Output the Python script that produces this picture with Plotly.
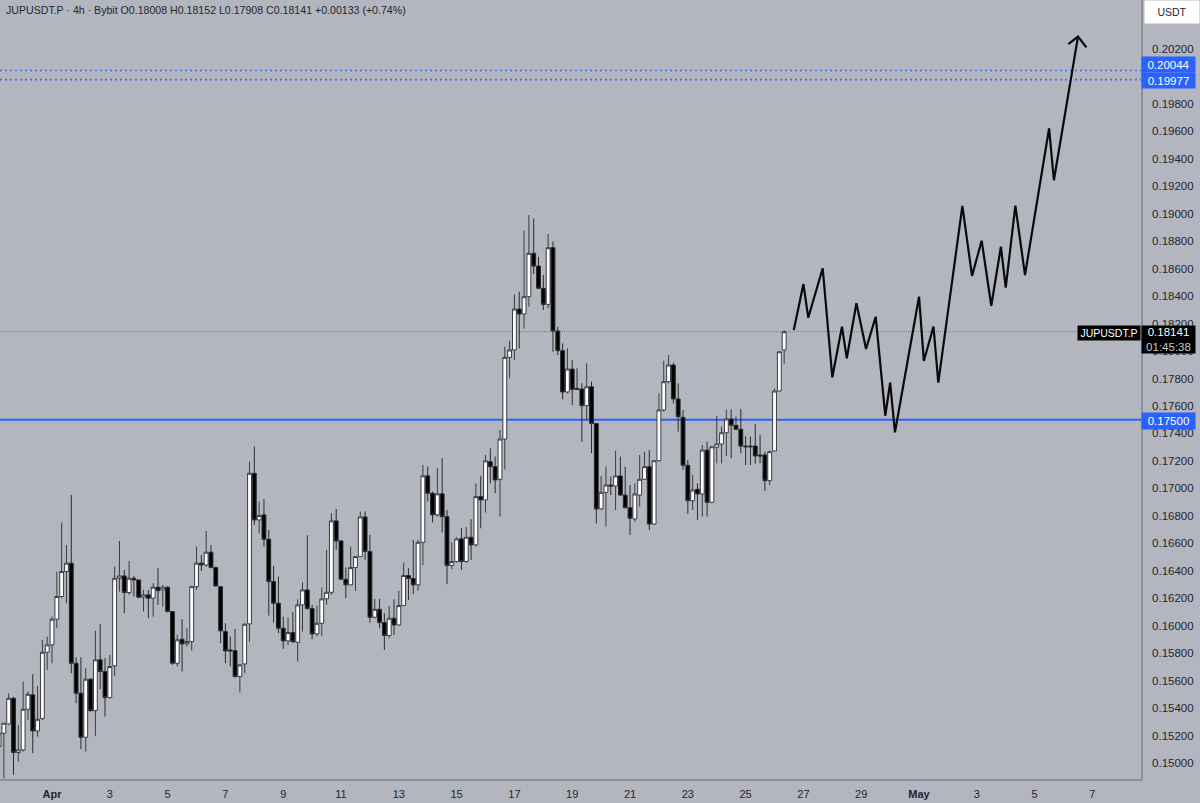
import pandas as pd
import plotly.graph_objects as go

BG = '#b3b6bf'
BLUE = '#2962ff'
INK = '#23262e'
FONT = 'Liberation Sans'

# 4h candles, first one is Mar 30 04:00
first_candle = '2026-03-30 04:00'

opens = [
    .15119, .15216, .15284, .15471, .15076, .15095, .15391, .15496, .15233, .15323,
    .15806, .15860, .16047, .16212, .16394, .16455, .15726, .15508, .15187, .15610,
    .15381, .15751, .15666, .15476, .15707, .16345, .16362, .16241, .16345, .16333,
    .16207, .16224, .16200, .16280, .16260, .16280, .16103, .15726, .15901, .15867,
    .15884, .16284, .16455, .16442, .16535, .16423, .16284, .15957, .15823, .15818,
    .15629, .15721, .16013, .17110, .16770, .16807, .16629, .16321, .16163, .15981,
    .15889, .15950, .15879, .16151, .16260, .16124, .15940, .16017, .16195, .16243,
    .16763, .16617, .16338, .16297, .16423, .16503, .16792, .16540, .16061, .16119,
    .16022, .15928, .16054, .16005, .16146, .16365, .16343, .16297, .16607, .17091,
    .16964, .16807, .16960, .16794, .16438, .16467, .16632, .16467, .16644, .16588,
    .16940, .16916, .17194, .17158, .17066, .17359, .17954, .18008, .18306, .18270,
    .18396, .18712, .18619, .18457, .18340, .18753, .18146, .18003, .17702, .17869,
    .17728, .17723, .17602, .17740, .17473, .16850, .16971, .17024, .17017, .17090,
    .16951, .16859, .16777, .16951, .17066, .17158, .16740, .17201, .17571, .17777,
    .17898, .17651, .17517, .17168, .16910, .16993, .16959, .17279, .16898, .17299,
    .17323, .17405, .17505, .17459, .17430, .17308, .17308, .17308, .17243, .17243,
    .17056, .17272, .17709, .18008,
]
highs = [
    .15216, .15289, .15507, .15480, .15277, .15593, .15520, .15646, .15561, .15896,
    .15920, .16066, .16394, .16751, .16588, .16952, .15770, .15770, .15690, .15617,
    .15962, .16010, .15763, .15787, .16430, .16617, .16406, .16472, .16362, .16333,
    .16260, .16260, .16309, .16418, .16297, .16285, .16103, .15933, .16047, .15981,
    .16289, .16576, .16515, .16690, .16588, .16430, .16289, .16017, .15920, .15976,
    .15721, .16017, .17195, .17304, .16904, .16921, .16697, .16435, .16357, .16066,
    .16059, .16098, .16192, .16314, .16658, .16151, .16144, .16277, .16552, .16819,
    .16850, .16620, .16425, .16576, .16508, .16831, .16831, .16661, .16195, .16195,
    .16090, .16144, .16192, .16253, .16459, .16418, .16624, .16624, .17171, .17159,
    .16977, .17146, .17219, .16843, .16607, .16644, .16709, .16717, .16775, .17037,
    .17091, .17243, .17291, .17231, .17425, .18032, .18076, .18413, .18432, .18877,
    .18991, .18966, .18687, .18554, .18852, .18797, .18177, .18056, .18020, .17935,
    .17874, .17765, .17910, .17777, .17473, .17090, .17158, .17085, .17274, .17231,
    .17158, .17024, .17036, .17243, .17267, .17279, .17206, .17692, .17930, .17971,
    .17915, .17765, .17571, .17206, .17097, .17037, .17316, .17340, .17308, .17527,
    .17449, .17575, .17575, .17522, .17578, .17381, .17376, .17469, .17388, .17267,
    .17274, .17728, .17995, .18152,
]
lows = [
    .14877, .14888, .15277, .14913, .15010, .15083, .15313, .15071, .15192, .15313,
    .15678, .15726, .15981, .16200, .16163, .15653, .15435, .15100, .15083, .15374,
    .15197, .15537, .15338, .15471, .15634, .16248, .16090, .16224, .16212, .16200,
    .16103, .16054, .16066, .16151, .16139, .16095, .15714, .15702, .15666, .15848,
    .15818, .16260, .16398, .16430, .16418, .16284, .15872, .15726, .15702, .15624,
    .15513, .15653, .15884, .16734, .16673, .16576, .16073, .16022, .15945, .15831,
    .15860, .15877, .15738, .15957, .16119, .15901, .15921, .15925, .16151, .16224,
    .16552, .16333, .16200, .16297, .16253, .16503, .16479, .16022, .16054, .15981,
    .15823, .15908, .15933, .16000, .16146, .16187, .16231, .16255, .16442, .16904,
    .16751, .16795, .16678, .16302, .16411, .16459, .16406, .16459, .16479, .16576,
    .16709, .16824, .17036, .16964, .16794, .17138, .17801, .17935, .18020, .18165,
    .18323, .18561, .18452, .18299, .18311, .17995, .17971, .17648, .17692, .17607,
    .17716, .17340, .17498, .17255, .16745, .16842, .16721, .16951, .16842, .16944,
    .16854, .16660, .16757, .16867, .17061, .16697, .16733, .17197, .17558, .17765,
    .17619, .17413, .17134, .16813, .16842, .16769, .16794, .16794, .16896, .17182,
    .17182, .17236, .17219, .17425, .17255, .17170, .17170, .17182, .17182, .16983,
    .17024, .17267, .17704, .17908,
]
closes = [
    .15216, .15289, .15471, .15076, .15095, .15391, .15500, .15233, .15318, .15806,
    .15860, .16047, .16212, .16394, .16455, .15726, .15508, .15187, .15610, .15381,
    .15751, .15666, .15476, .15702, .16345, .16362, .16241, .16345, .16333, .16207,
    .16224, .16200, .16280, .16255, .16280, .16103, .15726, .15896, .15867, .15884,
    .16284, .16455, .16442, .16535, .16423, .16289, .15962, .15816, .15816, .15629,
    .15714, .16010, .17110, .16770, .16802, .16629, .16321, .16163, .15981, .15889,
    .15950, .15882, .16151, .16260, .16124, .15940, .16017, .16195, .16243, .16763,
    .16617, .16338, .16297, .16423, .16503, .16792, .16540, .16061, .16119, .16022,
    .15928, .16054, .16005, .16146, .16365, .16343, .16297, .16607, .17091, .16964,
    .16807, .16960, .16794, .16438, .16467, .16632, .16467, .16644, .16588, .16940,
    .16916, .17200, .17158, .17061, .17359, .17954, .18008, .18306, .18270, .18396,
    .18712, .18619, .18457, .18340, .18753, .18146, .18003, .17702, .17869, .17721,
    .17721, .17602, .17740, .17473, .16850, .16971, .17024, .17017, .17090, .16951,
    .16859, .16782, .16959, .17066, .17158, .16740, .17201, .17571, .17777, .17898,
    .17651, .17522, .17168, .16910, .16988, .16959, .17279, .16898, .17303, .17323,
    .17405, .17505, .17459, .17430, .17308, .17303, .17303, .17236, .17236, .17056,
    .17267, .17709, .17995, .18141,
]

# the hand drawn forecast line
path_times = [
    '2026-04-26 16:00', '2026-04-27 00:00', '2026-04-27 04:00', '2026-04-27 16:00',
    '2026-04-28 00:00', '2026-04-28 08:00', '2026-04-28 12:00', '2026-04-28 20:00',
    '2026-04-29 04:00', '2026-04-29 12:00', '2026-04-29 20:00', '2026-04-30 00:00',
    '2026-04-30 04:00', '2026-05-01 00:00', '2026-05-01 04:00', '2026-05-01 12:00',
    '2026-05-01 16:00', '2026-05-02 12:00', '2026-05-02 20:00', '2026-05-03 04:00',
    '2026-05-03 12:00', '2026-05-03 20:00', '2026-05-04 00:00', '2026-05-04 08:00',
    '2026-05-04 16:00', '2026-05-05 12:00', '2026-05-05 16:00', '2026-05-06 12:00',
]
path_prices = [
    .18153, .18488, .18243, .18603, .17809, .18178, .17947, .18348,
    .18015, .18250, .17529, .17770, .17408, .18396, .17928, .18178,
    .17770, .19057, .18547, .18804, .18330, .18760, .18462, .19059,
    .18554, .19622, .19244, .20290,
]
arrow_times = ['2026-05-06 04:00', '2026-05-06 12:00', '2026-05-06 19:00']
arrow_prices = [.20236, .20290, .20212]

x_ticks = ['2026-04-01', '2026-04-03', '2026-04-05', '2026-04-07', '2026-04-09',
           '2026-04-11', '2026-04-13', '2026-04-15', '2026-04-17', '2026-04-19',
           '2026-04-21', '2026-04-23', '2026-04-25', '2026-04-27', '2026-04-29',
           '2026-05-01', '2026-05-03', '2026-05-05', '2026-05-07']
x_labels = ['<b>Apr</b>', '3', '5', '7', '9', '11', '13', '15', '17', '19',
            '21', '23', '25', '27', '29', '<b>May</b>', '3', '5', '7']
# 0.20000 sits under the blue tags in the picture, so it is left out
y_ticks = [.150, .152, .154, .156, .158, .160, .162, .164, .166, .168, .170, .172, .174,
           .176, .178, .180, .182, .184, .186, .188, .190, .192, .194, .196, .198, .202]

level_main = 0.17500
level_top = 0.20044
level_low = 0.19977
last_price = 0.18141

header = 'JUPUSDT.P · 4h · Bybit O0.18008 H0.18152 L0.17908 C0.18141 +0.00133 (+0.74%)'

times = pd.date_range(first_candle, periods=len(closes), freq='4h')

fig = go.Figure()
fig.add_trace(go.Candlestick(
    x=times, open=opens, high=highs, low=lows, close=closes,
    increasing=dict(fillcolor='white', line=dict(color='#3a3c42', width=1)),
    decreasing=dict(fillcolor='black', line=dict(color='#2a2b30', width=1)),
    whiskerwidth=0, hoverinfo='skip',
))
fig.add_trace(go.Scatter(x=path_times, y=path_prices, mode='lines',
                         line=dict(color='#0a0a0c', width=2.2), hoverinfo='skip'))
fig.add_trace(go.Scatter(x=arrow_times, y=arrow_prices, mode='lines',
                         line=dict(color='#0a0a0c', width=2.2), hoverinfo='skip'))


def hline(y, color, width, dash):
    fig.add_shape(type='line', xref='paper', x0=0, x1=1, y0=y, y1=y, layer='below',
                  line=dict(color=color, width=width, dash=dash))


hline(level_main, BLUE, 2, 'solid')
hline(level_top, '#3f6cf0', 1.6, '2px,3px')
hline(level_low, '#3f6cf0', 1.6, '2px,3px')
hline(last_price, '#6b6e76', 0.8, '1px,1px')


def price_tag(text, y, color, shift=0, height=15, size=11.5, text_color='white'):
    fig.add_annotation(text=text, xref='paper', x=1.0, xanchor='left', yref='y', y=y,
                       yshift=shift, showarrow=False, bgcolor=color, width=53, height=height,
                       align='center', borderpad=0, font=dict(family=FONT, size=size, color=text_color))


price_tag('0.20044', level_top, BLUE, shift=6)
price_tag('0.19977', level_low, BLUE, shift=-1)
price_tag('0.17500', level_main, BLUE, shift=-1, height=16)
price_tag('0.18141<br><span style="color:#c8c9cd">01:45:38</span>', last_price, 'black',
          shift=-7.5, height=27)

fig.add_annotation(text='JUPUSDT.P', xref='paper', x=1.0, xanchor='right', yref='y', y=last_price,
                   yshift=-1, showarrow=False, bgcolor='black', width=62, height=14, borderpad=0,
                   font=dict(family=FONT, size=10.5, color='white'))
fig.add_annotation(text='USDT', xref='paper', x=1.0, xanchor='left', xshift=3,
                   yref='paper', y=1.0, yanchor='top', showarrow=False, bgcolor='white',
                   width=54, height=22, borderpad=0, font=dict(family=FONT, size=10.5, color=INK))
fig.add_annotation(text=header, xref='paper', x=0, xshift=5, xanchor='left',
                   yref='paper', y=1.0, yshift=-3, yanchor='top', showarrow=False, borderpad=0,
                   font=dict(family=FONT, size=10.6, color=INK))

fig.update_layout(
    width=1200, height=803,
    margin=dict(l=0, r=59, t=0, b=24),
    paper_bgcolor=BG, plot_bgcolor=BG,
    showlegend=False, boxgap=0.2, boxgroupgap=0,
    font=dict(family=FONT, size=11.5, color=INK),
)
fig.update_xaxes(
    type='date', range=['2026-03-30 04:48', '2026-05-08 16:20'],
    rangeslider_visible=False, showgrid=False, zeroline=False,
    tickmode='array', tickvals=x_ticks, ticktext=x_labels, ticks='outside', ticklen=4,
    tickcolor=BG, tickfont=dict(size=11, color=INK),
    showline=True, linecolor='#8d9098', linewidth=1.5,
)
fig.update_yaxes(
    side='right', range=[.14883, .20557], showgrid=False, zeroline=False,
    tickmode='array', tickvals=y_ticks, tickformat='.5f', ticks='outside', ticklen=7,
    tickcolor=BG, tickfont=dict(size=11.5, color=INK),
    showline=True, linecolor='#8d9098', linewidth=1.5,
)

fig.write_html('out.html', config={'displayModeBar': False},
               post_script='document.body.style.margin = "0";')
